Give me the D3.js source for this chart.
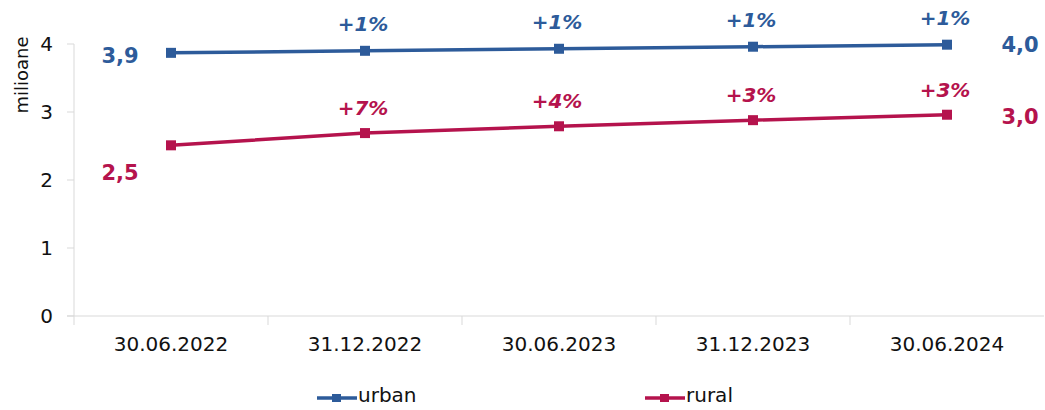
<!DOCTYPE html>
<html><head><meta charset="utf-8">
<script src="https://cdn.jsdelivr.net/npm/d3@7"></script>
<style>body{margin:0;background:#fff}svg{display:block}</style>
</head><body>
<svg id="c" width="1045" height="410"></svg>
<script>
const categories = ["30.06.2022","31.12.2022","30.06.2023","31.12.2023","30.06.2024"];
const urban = [3.87, 3.90, 3.93, 3.96, 3.99];
const rural = [2.51, 2.69, 2.79, 2.88, 2.96];
const urbanChange = [null, "+1%", "+1%", "+1%", "+1%"];
const ruralChange = [null, "+7%", "+4%", "+3%", "+3%"];
const urbanEnds = ["3,9", "4,0"];
const ruralEnds = ["2,5", "3,0"];
const yTicks = [0,1,2,3,4];

const blue = "#2D5B9A", red = "#B5134D", grid = "#d9d9d9";
const svg = d3.select("#c");
const font = "DejaVu Sans, Verdana, sans-serif";
const x = d3.scaleBand().domain(categories).range([74, 1044]).padding(0);
const y = d3.scaleLinear().domain([0,4]).range([316, 44]);
const cx = d => x(d) + x.bandwidth()/2;

// y axis
svg.append("line").attr("x1",74).attr("x2",74).attr("y1",y(4)).attr("y2",y(0)+9).attr("stroke",grid);
yTicks.forEach(t=>{
  svg.append("line").attr("x1",67).attr("x2",74).attr("y1",y(t)).attr("y2",y(t)).attr("stroke",grid);
  svg.append("text").attr("x",53).attr("y",y(t)).attr("dy","0.36em").attr("text-anchor","end")
    .attr("font-family",font).attr("font-size",20).attr("fill","#111").text(t);
});
// x axis
svg.append("line").attr("x1",67).attr("x2",1044).attr("y1",y(0)).attr("y2",y(0)).attr("stroke",grid);
categories.forEach((c,i)=>{
  if(i>0) svg.append("line").attr("x1",x(c)).attr("x2",x(c)).attr("y1",y(0)).attr("y2",y(0)+9).attr("stroke",grid);
  svg.append("text").attr("x",cx(c)).attr("y",351).attr("text-anchor","middle")
    .attr("font-family",font).attr("font-size",20).attr("fill","#111").text(c);
});
svg.append("text").attr("transform","translate(28,75) rotate(-90)").attr("text-anchor","middle")
  .attr("font-family",font).attr("font-size",18).attr("fill","#111").text("milioane");

function series(vals, color, changes, off){
  const line = d3.line().x((d,i)=>cx(categories[i])).y(d=>y(d));
  svg.append("path").attr("d",line(vals)).attr("fill","none").attr("stroke",color).attr("stroke-width",3.5);
  vals.forEach((v,i)=>{
    svg.append("rect").attr("x",cx(categories[i])-5).attr("y",y(v)-5).attr("width",10).attr("height",10).attr("fill",color);
    if(changes[i]) svg.append("text").attr("x",cx(categories[i])-2).attr("y",y(v)-off).attr("text-anchor","middle")
      .attr("font-family",font).attr("font-size",20).attr("font-weight","bold").attr("font-style","italic")
      .attr("fill",color).text(changes[i]);
  });
}
series(urban, blue, urbanChange, 20);
series(rural, red, ruralChange, 18);

function endLabel(txt, xx, yy, color){
  svg.append("text").attr("x",xx).attr("y",yy).attr("dy","0.36em").attr("text-anchor","middle")
    .attr("font-family",font).attr("font-size",21).attr("font-weight","bold").attr("fill",color).text(txt);
}
endLabel(urbanEnds[0], 120, y(urban[0])+3, blue);
endLabel(ruralEnds[0], 120, y(rural[0])+27, red);
endLabel(urbanEnds[1], 1020, y(urban[4]), blue);
endLabel(ruralEnds[1], 1020, y(rural[4])+2, red);

// legend
[["urban",blue,317],["rural",red,645]].forEach(([n,c,lx])=>{
  svg.append("line").attr("x1",lx).attr("x2",lx+40).attr("y1",398).attr("y2",398).attr("stroke",c).attr("stroke-width",3.5);
  svg.append("rect").attr("x",lx+15).attr("y",394).attr("width",9).attr("height",8).attr("fill",c);
  svg.append("text").attr("x",lx+41).attr("y",395).attr("dy","0.36em").attr("font-family",font)
    .attr("font-size",20).attr("fill","#111").text(n);
});
</script>
</body></html>
